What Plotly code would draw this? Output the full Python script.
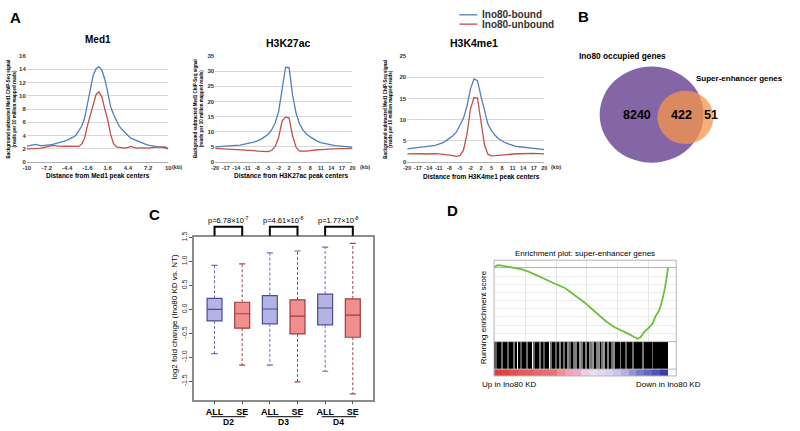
import plotly.graph_objects as go

W, H = 800, 431
FONT = "Liberation Sans, Arial, sans-serif"

def px(x):
    return x / W

def py(y):
    return 1 - y / H

# ---------------- Panel A data ----------------
med1_bins = ["-10", "-9.6", "-9.2", "-8.8", "-8.4", "-8", "-7.6", "-7.2", "-6.8", "-6.4",
             "-6", "-5.6", "-5.2", "-4.8", "-4.4", "-4", "-3.6", "-3.2", "-2.8", "-2.4",
             "-2", "-1.6", "-1.2", "-0.8", "-0.4", "0.4", "0.8", "1.2", "1.6", "2",
             "2.4", "2.8", "3.2", "3.6", "4", "4.4", "4.8", "5.2", "5.6", "6",
             "6.4", "6.8", "7.2", "7.6", "8", "8.4", "8.8", "9.2", "9.6", "10"]
med1_ticks = ["-10", "-7.2", "-4.4", "-1.6", "1.6", "4.4", "7.2", "10"]
med1_bound = [2.4, 2.5, 2.6, 2.65, 2.55, 2.45, 2.5, 2.6, 2.6, 2.65,
              2.75, 2.9, 3.05, 3.15, 3.3, 3.5, 3.75, 4.05, 4.7, 5.4,
              6.6, 8.9, 11.3, 13.1, 14.1, 14.4, 13.9, 12.5, 10.6, 8.4,
              7.2, 6.2, 5.4, 4.9, 4.4, 4.0, 3.6, 3.4, 3.25, 3.1,
              2.85, 2.7, 2.55, 2.45, 2.35, 2.3, 2.25, 2.2, 2.15, 2.0]
med1_unbound = [2.0, 2.0, 1.95, 2.0, 2.05, 2.1, 2.2, 2.4, 2.5, 2.5,
                2.45, 2.35, 2.35, 2.4, 2.4, 2.35, 2.35, 2.3, 2.35, 2.7,
                3.6, 5.5, 7.0, 8.8, 10.2, 10.6, 9.8, 8.0, 6.4, 4.2,
                2.8, 2.3, 2.2, 2.1, 2.1, 2.2, 2.35, 2.2, 2.1, 2.15,
                2.2, 2.15, 2.1, 2.1, 2.2, 2.25, 2.3, 2.35, 2.3, 2.0]

histone_bins = ["-20", "-19", "-18", "-17", "-16", "-15", "-14", "-13", "-12", "-11",
                "-10", "-9", "-8", "-7", "-6", "-5", "-4", "-3", "-2", "-1",
                "1", "2", "3", "4", "5", "6", "7", "8", "9", "10",
                "11", "12", "13", "14", "15", "16", "17", "18", "19", "20"]
histone_ticks = ["-20", "-17", "-14", "-11", "-8", "-5", "-2", "2", "5", "8", "11", "14", "17", "20"]

k27_bound = [5.0, 5.05, 5.1, 5.2, 5.3, 5.4, 5.5, 5.6, 5.8, 6.0,
             6.2, 6.6, 7.0, 7.5, 8.3, 9.1, 10.5, 12.8, 16.5, 24.0,
             31.3, 31.2, 22.0, 16.0, 12.5, 10.5, 9.2, 8.3, 7.5, 6.9,
             6.4, 6.1, 5.8, 5.6, 5.4, 5.3, 5.2, 5.1, 5.0, 4.9]
k27_unbound = [4.5, 4.45, 4.4, 4.35, 4.3, 4.25, 4.2, 4.1, 4.0, 3.9,
               3.85, 3.75, 3.6, 3.5, 3.45, 3.45, 3.8, 5.0, 8.0, 13.5,
               14.9, 14.5, 8.6, 4.8, 3.6, 3.5, 3.6, 3.8, 4.0, 4.05,
               4.1, 4.2, 4.25, 4.3, 4.35, 4.4, 4.4, 4.45, 4.45, 4.5]

k4_bound = [3.1, 3.2, 3.3, 3.4, 3.45, 3.55, 3.6, 3.75, 3.95, 4.2,
            4.5, 5.0, 5.6, 6.2, 7.1, 8.6, 10.3, 13.2, 17.2, 19.6,
            19.2, 15.5, 11.8, 8.9, 7.4, 6.3, 5.5, 4.9, 4.5, 4.2,
            3.9, 3.7, 3.6, 3.5, 3.45, 3.35, 3.3, 3.2, 3.1, 2.95]
k4_unbound = [1.9, 1.95, 2.0, 2.0, 1.95, 1.9, 1.95, 2.0, 1.95, 1.9,
              1.85, 1.75, 1.65, 1.5, 1.35, 1.5, 2.8, 6.5, 12.5, 15.2,
              15.1, 9.5, 4.0, 1.8, 1.45, 1.5, 1.6, 1.7, 1.8, 1.85,
              1.9, 1.95, 1.95, 2.0, 2.0, 2.0, 2.05, 2.0, 1.95, 1.9]

# ---------------- Panel B data ----------------
venn_sets = ["Ino80 occupied genes", "Super-enhancer genes"]
venn_counts = [8240, 422, 51]   # only Ino80, both, only SE

# ---------------- Panel C data ----------------
box_days = ["D2", "D3", "D4"]
box_sets = ["ALL", "SE"]
box_pos = [1, 2, 3, 4, 5, 6]
box_upper = [0.92, 0.95, 1.18, 1.22, 1.30, 1.38]
box_q3 = [0.23, 0.15, 0.29, 0.20, 0.32, 0.22]
box_median = [0.0, -0.09, 0.01, -0.14, 0.03, -0.12]
box_q1 = [-0.24, -0.39, -0.30, -0.51, -0.32, -0.58]
box_lower = [-0.92, -1.16, -1.16, -1.51, -1.29, -1.76]
pvalues = ["p=6.78×10<sup>-7</sup>", "p=4.61×10<sup>-8</sup>", "p=1.77×10<sup>-8</sup>"]

# ---------------- Panel D data ----------------
es_rank = [0, 150, 320, 700, 1100, 1500, 1810, 2300, 2800, 3300, 3900, 4580, 5200, 5860,
           6300, 6710, 7200, 7780, 8100, 8420, 8750, 9050, 9270, 9450, 9690, 9950, 10220,
           10440, 10600, 10760, 10970, 11120, 11230]
es_value = [0.0, 0.03, 0.036, 0.025, 0.01, 0.0, -0.016, -0.05, -0.095, -0.145, -0.19, -0.245,
            -0.33, -0.426, -0.5, -0.567, -0.65, -0.727, -0.755, -0.78, -0.815, -0.847, -0.868,
            -0.85, -0.787, -0.74, -0.687, -0.587, -0.54, -0.467, -0.305, -0.145, 0.0]
hit_rank = [0, 130, 260, 420, 510, 640, 770, 900, 1060, 1150, 1280, 1440, 1600, 1730, 1860,
            1980, 2110, 2240, 2400, 2560, 2690, 2820, 2940, 3070, 3230, 3390, 3520, 3650, 3780,
            3900, 4030, 4160, 4290, 4420, 4540, 4670, 4800, 4930, 5060, 5180, 5310, 5440, 5570,
            5700, 5820, 5950, 6080, 6180, 6270, 6400, 6530, 6660, 6780, 6880, 6980, 7100, 7230,
            7360, 7490, 7620, 7740, 7870, 8000, 8100, 8190, 8290, 8380, 8510, 8640, 8700, 8830,
            8960, 9090, 9180, 9280, 9410, 9540, 9630, 9730, 9860, 9980, 10050, 10140, 10240,
            10340, 10430, 10530, 10620, 10690, 10780, 10880, 10940, 11040, 11140, 11200]
hit_shade = [0, 90, 0, 0, 110, 0, 0, 100, 0, 0, 120, 0, 0, 90, 0,
             0, 110, 0, 0, 100, 0, 0, 120, 0, 90, 0, 0, 110, 0,
             0, 100, 0, 130, 0, 110, 0, 140, 100, 0, 120, 130, 0, 150, 120,
             0, 130, 0, 140, 120, 150, 0, 130, 140, 0, 120, 150, 0,
             130, 0, 110, 140, 0, 0, 0, 120, 0, 0, 100, 0, 0, 0,
             110, 0, 0, 0, 0, 0, 120, 0, 0, 0, 0, 0, 100,
             0, 0, 0, 0, 0, 0, 0, 0, 0, 0, 0]
metric_bin_width = 512
metric_values = [2.0, 1.8, 1.6, 1.4, 1.3, 1.1, 1.0, 0.9, 0.6, 0.4, 0.3, 0.1,
                 -0.05, -0.15, -0.25, -0.35, -0.5, -0.7, -0.9, -1.1, -1.4, -1.8]

BLUE = "#4f7fbf"
RED = "#c0504d"

fig = go.Figure()

# ---- Panel A traces ----
profiles = [
    ("x", "y", med1_bins, med1_bound, med1_unbound),
    ("x2", "y2", histone_bins, k27_bound, k27_unbound),
    ("x3", "y3", histone_bins, k4_bound, k4_unbound),
]
for xa, ya, cats, b, u in profiles:
    fig.add_trace(go.Scatter(x=cats, y=b, mode="lines", line=dict(color=BLUE, width=1.3),
                             xaxis=xa, yaxis=ya, showlegend=False, name="Ino80-bound"))
    fig.add_trace(go.Scatter(x=cats, y=u, mode="lines", line=dict(color=RED, width=1.3),
                             xaxis=xa, yaxis=ya, showlegend=False, name="Ino80-unbound"))

# ---- Panel C traces ----
for i, p in enumerate(box_pos):
    is_all = (i % 2 == 0)
    fill = "#b4b4e4" if is_all else "#f28e8e"
    edge = "#4c4c98" if is_all else "#9c3c3c"
    wcol = "#6c6cb4" if is_all else "#a04848"
    fig.add_trace(go.Box(x=[p], q1=[box_q1[i]], median=[box_median[i]], q3=[box_q3[i]],
                         lowerfence=[box_q1[i]], upperfence=[box_q3[i]],
                         width=0.54, whiskerwidth=0, fillcolor=fill,
                         line=dict(color=edge, width=1.2), xaxis="x4", yaxis="y4",
                         showlegend=False, hoverinfo="skip"))
    fig.add_trace(go.Scatter(x=[p, p, None, p, p], y=[box_q3[i], box_upper[i], None, box_q1[i], box_lower[i]],
                             mode="lines", line=dict(color=wcol, width=1, dash="3px,2px"),
                             xaxis="x4", yaxis="y4", showlegend=False, hoverinfo="skip"))
    fig.add_trace(go.Scatter(x=[p - 0.11, p + 0.11, None, p - 0.11, p + 0.11],
                             y=[box_upper[i], box_upper[i], None, box_lower[i], box_lower[i]],
                             mode="lines", line=dict(color=wcol, width=1.2),
                             xaxis="x4", yaxis="y4", showlegend=False, hoverinfo="skip"))

# ---- Panel D traces ----
fig.add_trace(go.Scatter(x=es_rank, y=es_value, mode="lines", line=dict(color="#6cbf3c", width=1.8),
                         xaxis="x5", yaxis="y5", showlegend=False))
fig.add_trace(go.Bar(x=hit_rank, y=[1] * len(hit_rank), width=70,
                     marker=dict(color=["rgb(%d,%d,%d)" % (s, s, s) for s in hit_shade], line=dict(width=0)),
                     xaxis="x6", yaxis="y6", showlegend=False))
fig.add_trace(go.Heatmap(z=[metric_values], x0=metric_bin_width / 2, dx=metric_bin_width, y=[0],
                         zmin=-2, zmax=2, showscale=False,
                         colorscale=[[0, "#2f2f9c"], [0.25, "#6b6bc6"], [0.44, "#d6d4f0"],
                                     [0.5, "#f1e2ee"], [0.56, "#f0b2d2"], [0.72, "#e87474"],
                                     [1, "#e03c3c"]],
                         xaxis="x7", yaxis="y7"))

# ---------------- axes ----------------
ax_common = dict(showgrid=False, zeroline=False, fixedrange=True)

def a_xaxis(x0, x1, cats, ticks, fsize):
    return dict(domain=[px(x0), px(x1)], type="category", categoryorder="array", categoryarray=cats,
                range=[0, len(cats) - 1], tickmode="array", tickvals=ticks, tickangle=0,
                ticktext=["<b>%s</b>" % t for t in ticks],
                tickfont=dict(family=FONT, size=fsize, color="#333333"), ticks="",
                showline=True, linecolor="#b0b0b0", linewidth=1, showgrid=False, zeroline=False)

def a_yaxis(xa, top, step):
    vals = list(range(0, top + 1, step))
    return dict(domain=[py(160), py(52)], anchor=xa, range=[0, top], tickmode="array", tickvals=vals,
                ticktext=["<b>%d</b>" % v for v in vals],
                tickfont=dict(family=FONT, size=6, color="#333333"), ticks="",
                showgrid=True, gridcolor="#d9d9d9", gridwidth=1, zeroline=False, showline=False)

layout = dict(
    width=W, height=H, margin=dict(l=0, r=0, t=0, b=0), paper_bgcolor="white", plot_bgcolor="white",
    font=dict(family=FONT, color="black"), showlegend=False, bargap=0,
    xaxis=a_xaxis(23, 166, med1_bins, med1_ticks, 6) | dict(anchor="y"),
    yaxis=a_yaxis("x", 16, 2),
    xaxis2=a_xaxis(213.3, 352, histone_bins, histone_ticks, 5.5) | dict(anchor="y2"),
    yaxis2=a_yaxis("x2", 35, 5),
    xaxis3=a_xaxis(407.3, 545.7, histone_bins, histone_ticks, 5.5) | dict(anchor="y3"),
    yaxis3=a_yaxis("x3", 25, 5),
    xaxis4=dict(domain=[px(192), px(373)], anchor="y4", range=[0.26, 6.74], tickmode="array",
                tickvals=box_pos, ticktext=["<b>%s</b>" % box_sets[i % 2] for i in range(6)],
                tickfont=dict(family=FONT, size=9, color="black"), ticks="outside", ticklen=3,
                tickcolor="#555555", showline=True, mirror=True, linecolor="#8c8c8c", linewidth=1.5,
                **ax_common),
    yaxis4=dict(domain=[py(402), py(236)], anchor="x4", range=[-1.88, 1.52], tickmode="array",
                tickvals=[-1.5, -1.0, -0.5, 0.0, 0.5, 1.0, 1.5],
                ticktext=["-1.5", "-1.0", "-0.5", "0.0", "0.5", "1.0", "1.5"], tickangle=-90,
                tickfont=dict(family=FONT, size=7, color="#333333"), ticks="outside", ticklen=3,
                tickcolor="#555555", showline=True, mirror=True, linecolor="#8c8c8c", linewidth=1.5,
                **ax_common),
    xaxis5=dict(domain=[px(495), px(679)], anchor="y5", range=[0, 11760], showticklabels=False,
                showgrid=True, gridcolor="#e6e6e6", dtick=2000, tick0=0, zeroline=False, fixedrange=True),
    yaxis5=dict(domain=[py(343), py(260)], anchor="x5", range=[-0.904, 0.096], showticklabels=False,
                showgrid=True, gridcolor="#ececec", dtick=0.1, tick0=0, zeroline=True,
                zerolinecolor="#b4b4b4", zerolinewidth=1, fixedrange=True),
    xaxis6=dict(domain=[px(495), px(679)], anchor="y6", range=[0, 11760], showticklabels=False, **ax_common),
    yaxis6=dict(domain=[py(371), py(343)], anchor="x6", range=[0, 1], showticklabels=False, **ax_common),
    xaxis7=dict(domain=[px(495), px(679)], anchor="y7", range=[0, 11760], showticklabels=False, **ax_common),
    yaxis7=dict(domain=[py(378), py(371)], anchor="x7", range=[-0.5, 0.5], showticklabels=False, **ax_common),
)
fig.update_layout(**layout)

# ---------------- annotations ----------------
anns = []

def ann(text, x, y, size, bold=False, xanchor="center", angle=0, color="black"):
    t = "<b>%s</b>" % text if bold else text
    anns.append(dict(text=t, x=px(x), y=py(y), xref="paper", yref="paper", xanchor=xanchor,
                     yanchor="middle", showarrow=False, textangle=angle,
                     font=dict(family=FONT, size=size, color=color)))

# panel letters
ann("A", 12, 13, 15, True)
ann("B", 585, 12, 15, True)
ann("C", 152, 213, 15, True)
ann("D", 453, 209, 15, True)

# Panel A titles and labels
ann("Med1", 95, 35, 10, True)
ann("H3K27ac", 287, 39, 10.5, True)
ann("H3K4me1", 475, 39, 10.5, True)
ann("Distance from Med1 peak centers", 95, 174, 6.5, True)
ann("Distance from H3K27ac peak centers", 290, 174, 6.5, True)
ann("Distance from H3K4me1 peak centers", 482, 175, 6.5, True)
for xk in (168, 358, 550):
    ann("(kb)", xk, 165.5, 5.5, True, xanchor="left", color="#333333")
ytitle = "Background subtracted Med1 ChIP-Seq signal<br>(reads per 10 million mapped reads)"
for xt in (7.5, 196, 387.5):
    ann(ytitle, xt, 106, 4.5, True, angle=-90)

# legend (manual)
fig.add_shape(type="line", xref="paper", yref="paper", x0=px(460), x1=px(478), y0=py(10), y1=py(10),
              line=dict(color=BLUE, width=1.3))
fig.add_shape(type="line", xref="paper", yref="paper", x0=px(460), x1=px(478), y0=py(19.5), y1=py(19.5),
              line=dict(color=RED, width=1.3))
ann("Ino80-bound", 481, 10, 10, True, xanchor="left", color="#333333")
ann("Ino80-unbound", 481, 19.5, 10, True, xanchor="left", color="#333333")

# Panel B venn
fig.add_shape(type="circle", xref="paper", yref="paper", x0=px(601.7), x1=px(706.7), y0=py(160.7), y1=py(62.7),
              fillcolor="#8466a6", line=dict(width=0), layer="above")
fig.add_shape(type="circle", xref="paper", yref="paper", x0=px(660), x1=px(716.7), y0=py(141.7), y1=py(87.3),
              fillcolor="#f7964a", opacity=0.75, line=dict(width=0), layer="above")
ann(str(venn_counts[0]), 639, 112, 12.5, True)
ann(str(venn_counts[1]), 684, 112, 12.5, True)
ann(str(venn_counts[2]), 714, 112, 12.5, True)
ann(venn_sets[0], 625, 52, 8.3, True)
ann(venn_sets[1], 697, 75, 8, True, xanchor="left")

# Panel C extra
ann("log2 fold change (Ino80 KD vs. NT)", 172, 318, 8, False, angle=-90)
for g in range(3):
    a, b = box_pos[2 * g], box_pos[2 * g + 1]
    mid = (a + b) / 2
    anns.append(dict(text=pvalues[g], x=mid, y=py(219), xref="x4", yref="paper", showarrow=False,
                     xanchor="center", yanchor="middle", font=dict(family=FONT, size=7.5, color="black")))
    anns.append(dict(text="<b>%s</b>" % box_days[g], x=mid, y=py(425), xref="x4", yref="paper",
                     showarrow=False, xanchor="center", yanchor="middle",
                     font=dict(family=FONT, size=8.5, color="black")))
    fig.add_shape(type="path", xref="x4", yref="paper",
                  path="M %s,%s L %s,%s L %s,%s L %s,%s" % (a, py(235), a, py(226), b, py(226), b, py(235)),
                  line=dict(color="black", width=2))
    fig.add_shape(type="line", xref="x4", yref="paper", x0=a - 0.12, x1=b + 0.12, y0=py(419.5), y1=py(419.5),
                  line=dict(color="black", width=1))

# Panel D extra
ann("Enrichment plot: super-enhancer genes", 587, 253, 8)
ann("Running enrichment score", 484, 318, 8, angle=-90)
ann("Up in Ino80 KD", 481, 387, 8, xanchor="left")
ann("Down in Ino80 KD", 706, 387, 8, xanchor="right")
fig.add_shape(type="rect", xref="paper", yref="paper", x0=px(495), x1=px(679), y0=py(378), y1=py(260),
              line=dict(color="#b4b4b4", width=1))
for yl in (343, 371):
    fig.add_shape(type="line", xref="paper", yref="paper", x0=px(495), x1=px(679), y0=py(yl), y1=py(yl),
                  line=dict(color="#b4b4b4", width=1))

fig.update_layout(annotations=anns)
# remove the browser's default 8px page margin so the figure fills the window exactly
fig.write_html("out.html", config={"displayModeBar": False},
               post_script="document.body.style.margin='0';document.body.style.padding='0';")
